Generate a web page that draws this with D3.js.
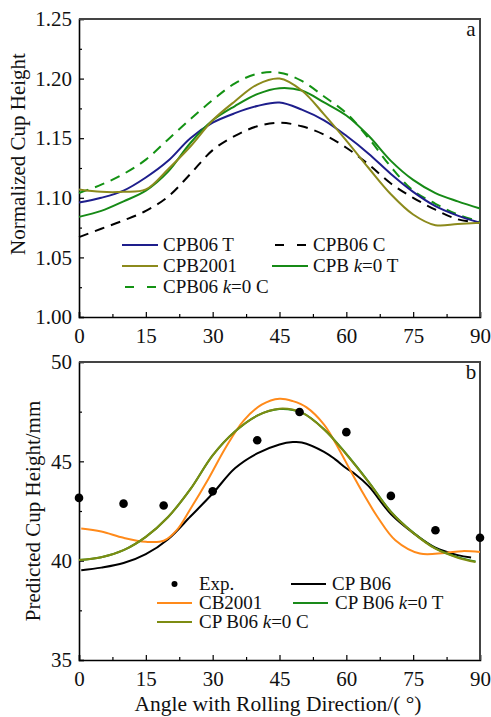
<!DOCTYPE html>
<html>
<head>
<meta charset="utf-8">
<script src="https://cdn.jsdelivr.net/npm/d3@7"></script>
<style>
  body { margin: 0; background: #fff; }
</style>
</head>
<body>
<div id="chart"></div>
<script>
// ---- panel a: normalized cup height ----
const topAngle = [0, 5, 10, 15, 20, 25, 30, 35, 40, 45, 50, 55, 60, 65, 70, 75, 80, 85, 90];
const cpb06T    = [1.096, 1.100, 1.106, 1.117, 1.131, 1.150, 1.163, 1.171, 1.177, 1.180, 1.174, 1.165, 1.152, 1.137, 1.120, 1.105, 1.093, 1.085, 1.079];
const cpb06C    = [1.067, 1.074, 1.081, 1.089, 1.101, 1.120, 1.140, 1.152, 1.160, 1.163, 1.160, 1.153, 1.142, 1.128, 1.112, 1.100, 1.090, 1.082, 1.079];
const cpb2001   = [1.107, 1.105, 1.105, 1.107, 1.124, 1.143, 1.165, 1.181, 1.195, 1.200, 1.190, 1.170, 1.148, 1.125, 1.103, 1.086, 1.077, 1.078, 1.079];
const cpbK0T    = [1.084, 1.089, 1.097, 1.106, 1.122, 1.146, 1.165, 1.177, 1.187, 1.192, 1.190, 1.180, 1.169, 1.152, 1.131, 1.115, 1.104, 1.097, 1.091];
const cpb06K0C  = [1.104, 1.111, 1.120, 1.132, 1.149, 1.166, 1.182, 1.196, 1.204, 1.205, 1.198, 1.185, 1.171, 1.150, 1.126, 1.106, 1.095, 1.086, 1.080];

// ---- panel b: predicted cup height (mm) ----
const expAngle  = [0, 10, 19, 30, 40, 49.5, 60, 70, 80, 90];
const expHeight = [43.16, 42.87, 42.78, 43.49, 46.06, 47.48, 46.47, 43.26, 41.53, 41.15];

const b06Angle  = [0.5, 5, 10, 15, 20, 25, 30, 35, 40, 45, 48, 50, 55, 57.5, 60, 62, 65, 70, 75, 80, 85, 88];
const b06Height = [39.52, 39.65, 39.88, 40.33, 41.08, 42.22, 43.38, 44.65, 45.40, 45.85, 45.97, 45.95, 45.48, 45.10, 44.65, 44.35, 43.75, 42.35, 41.40, 40.65, 40.28, 40.16];

const cbAngle   = [0.5, 5, 10, 15, 19, 22, 25, 29, 33, 37, 41, 45, 48, 51, 55, 58.5, 61, 64, 67, 71, 76.5, 82, 86, 90];
const cbHeight  = [41.62, 41.47, 41.15, 40.95, 41.00, 41.55, 42.60, 44.10, 45.72, 47.06, 47.85, 48.15, 48.03, 47.73, 46.85, 45.55, 44.50, 43.30, 42.20, 41.03, 40.36, 40.39, 40.48, 40.44];

const k0Angle   = [0, 5, 10, 15, 20, 25, 30, 35, 40, 45, 50, 55, 60, 65, 70, 75, 80, 85, 89];
const k0THeight = [40.03, 40.17, 40.53, 41.20, 42.20, 43.60, 45.30, 46.50, 47.30, 47.63, 47.45, 46.62, 45.37, 43.97, 42.47, 41.42, 40.62, 40.18, 39.96];
const k0CHeight = [40.03, 40.17, 40.53, 41.20, 42.20, 43.60, 45.30, 46.50, 47.30, 47.65, 47.45, 46.60, 45.35, 43.95, 42.45, 41.40, 40.60, 40.15, 39.93];

const xTicks = [0, 15, 30, 45, 60, 75, 90];
const xMinor = d3.range(7.5, 90, 15);

const W = 491, H = 717;
const FONT = "'Liberation Serif', 'Times New Roman', Times, serif";
const svg = d3.select("#chart").append("svg")
    .attr("width", W).attr("height", H)
    .style("display", "block")
    .attr("font-family", FONT);

const pairs = (xs, ys) => xs.map((a, i) => [a, ys[i]]);

function drawPanel(opt) {
    const x = d3.scaleLinear().domain([0, 90]).range([79, 480]);
    const y = d3.scaleLinear().domain(opt.yDomain).range([opt.bottom, opt.top]);
    const g = svg.append("g");

    // minor ticks, no labels
    g.append("g").attr("transform", `translate(0,${opt.bottom})`)
        .call(d3.axisBottom(x).tickValues(xMinor).tickSize(-3).tickFormat(""))
        .call(s => s.select(".domain").remove());
    g.append("g").attr("transform", "translate(79,0)")
        .call(d3.axisLeft(y).tickValues(opt.yMinor).tickSize(-3).tickFormat(""))
        .call(s => s.select(".domain").remove());

    const xa = g.append("g").attr("transform", `translate(0,${opt.bottom})`)
        .call(d3.axisBottom(x).tickValues(xTicks).tickSize(-5).tickPadding(11));
    const ya = g.append("g").attr("transform", "translate(79,0)")
        .call(d3.axisLeft(y).tickValues(opt.yTicks).tickSize(-5).tickPadding(7).tickFormat(opt.fmt));
    g.selectAll("g").attr("font-family", FONT).attr("font-size", 21);
    g.selectAll(".tick line").attr("stroke", "#000").attr("stroke-width", 1.2);
    g.selectAll(".tick text").attr("fill", "#111");
    xa.select(".domain").attr("stroke", "#000").attr("stroke-width", 1.6);
    ya.select(".domain").attr("stroke", "#000").attr("stroke-width", 1.6);

    // frame top + right
    g.append("path")
        .attr("d", `M79,${opt.top}H480V${opt.bottom}`)
        .attr("fill", "none").attr("stroke", "#444").attr("stroke-width", 2);

    const line = d3.line().x(d => x(d[0])).y(d => y(d[1])).curve(d3.curveCatmullRom.alpha(0.5));
    opt.series.forEach(s => {
        g.append("path").datum(pairs(s.ax, s.vals))
            .attr("d", line)
            .attr("fill", "none")
            .attr("stroke", s.color)
            .attr("stroke-width", 2)
            .attr("stroke-dasharray", s.dash ? "10,7" : null);
    });

    if (opt.points) {
        g.selectAll("circle.exp").data(pairs(opt.points.ax, opt.points.vals)).join("circle")
            .attr("class", "exp")
            .attr("cx", d => x(d[0])).attr("cy", d => y(d[1]))
            .attr("r", 4.3).attr("fill", "#000");
    }

    // y title
    g.append("text")
        .attr("transform", `translate(${opt.titleX},${opt.titleY}) rotate(-90)`)
        .attr("text-anchor", "middle").attr("font-size", 21).attr("fill", "#111")
        .text(opt.yTitle);

    // panel letter
    g.append("text").attr("x", 471).attr("y", opt.top + 17)
        .attr("text-anchor", "middle").attr("font-size", 21).attr("fill", "#111")
        .text(opt.letter);

    // legend
    opt.legend.forEach(l => {
        const lg = g.append("g");
        if (l.dot) {
            lg.append("circle").attr("cx", (l.x0 + l.x1) / 2).attr("cy", l.y).attr("r", 3).attr("fill", "#000");
        } else {
            lg.append("line")
                .attr("x1", l.x0).attr("x2", l.x1).attr("y1", l.y).attr("y2", l.y)
                .attr("stroke", l.color).attr("stroke-width", 2)
                .attr("stroke-dasharray", l.dash ? "9,13" : null)
                .attr("stroke-dashoffset", l.dash ? -3 : null);
        }
        const t = lg.append("text").attr("x", l.tx).attr("y", l.y + 6)
            .attr("font-size", 19).attr("fill", "#111");
        l.label.forEach(p => t.append("tspan").attr("font-style", p.i ? "italic" : null).text(p.t));
    });
}

drawPanel({
    top: 19, bottom: 317,
    yDomain: [1.0, 1.25],
    yTicks: [1.00, 1.05, 1.10, 1.15, 1.20, 1.25],
    yMinor: [1.025, 1.075, 1.125, 1.175, 1.225],
    fmt: d3.format(".2f"),
    yTitle: "Normalized Cup Height", titleX: 25, titleY: 154,
    letter: "a",
    series: [
        { ax: topAngle, vals: cpb06C, color: "#000", dash: true },
        { ax: topAngle, vals: cpb06K0C, color: "#139213", dash: true },
        { ax: topAngle, vals: cpb06T, color: "#1e1e8c" },
        { ax: topAngle, vals: cpbK0T, color: "#168a16" },
        { ax: topAngle, vals: cpb2001, color: "#8c8a1c" }
    ],
    legend: [
        { x0: 122, x1: 158, tx: 163, y: 245, color: "#1e1e8c", label: [{ t: "CPB06 T" }] },
        { x0: 122, x1: 158, tx: 163, y: 266, color: "#8c8a1c", label: [{ t: "CPB2001" }] },
        { x0: 122, x1: 158, tx: 163, y: 287, color: "#139213", dash: true, label: [{ t: "CPB06 " }, { t: "k", i: true }, { t: "=0 C" }] },
        { x0: 272, x1: 308, tx: 313, y: 245, color: "#000", dash: true, label: [{ t: "CPB06 C" }] },
        { x0: 272, x1: 308, tx: 313, y: 266, color: "#168a16", label: [{ t: "CPB " }, { t: "k", i: true }, { t: "=0 T" }] }
    ]
});

drawPanel({
    top: 362, bottom: 660,
    yDomain: [35, 50],
    yTicks: [35, 40, 45, 50],
    yMinor: [37.5, 42.5, 47.5],
    fmt: d3.format("d"),
    yTitle: "Predicted Cup Height/mm", titleX: 40, titleY: 511,
    letter: "b",
    series: [
        { ax: b06Angle, vals: b06Height, color: "#000" },
        { ax: cbAngle, vals: cbHeight, color: "#ff8a1a" },
        { ax: k0Angle, vals: k0THeight, color: "#1a8a1a" },
        { ax: k0Angle, vals: k0CHeight, color: "#7d8c12" }
    ],
    points: { ax: expAngle, vals: expHeight },
    legend: [
        { x0: 157, x1: 192, tx: 199, y: 584, dot: true, label: [{ t: "Exp." }] },
        { x0: 157, x1: 192, tx: 199, y: 603, color: "#ff8a1a", label: [{ t: "CB2001" }] },
        { x0: 157, x1: 192, tx: 199, y: 622, color: "#7d8c12", label: [{ t: "CP B06 " }, { t: "k", i: true }, { t: "=0 C" }] },
        { x0: 291, x1: 326, tx: 332, y: 584, color: "#000", label: [{ t: "CP B06" }] },
        { x0: 293, x1: 328, tx: 335, y: 603, color: "#1a8a1a", label: [{ t: "CP B06 " }, { t: "k", i: true }, { t: "=0 T" }] }
    ]
});

svg.append("text").attr("x", 278).attr("y", 711)
    .attr("text-anchor", "middle").attr("font-size", 21.5).attr("fill", "#111")
    .text("Angle with Rolling Direction/( °)");
</script>
</body>
</html>
